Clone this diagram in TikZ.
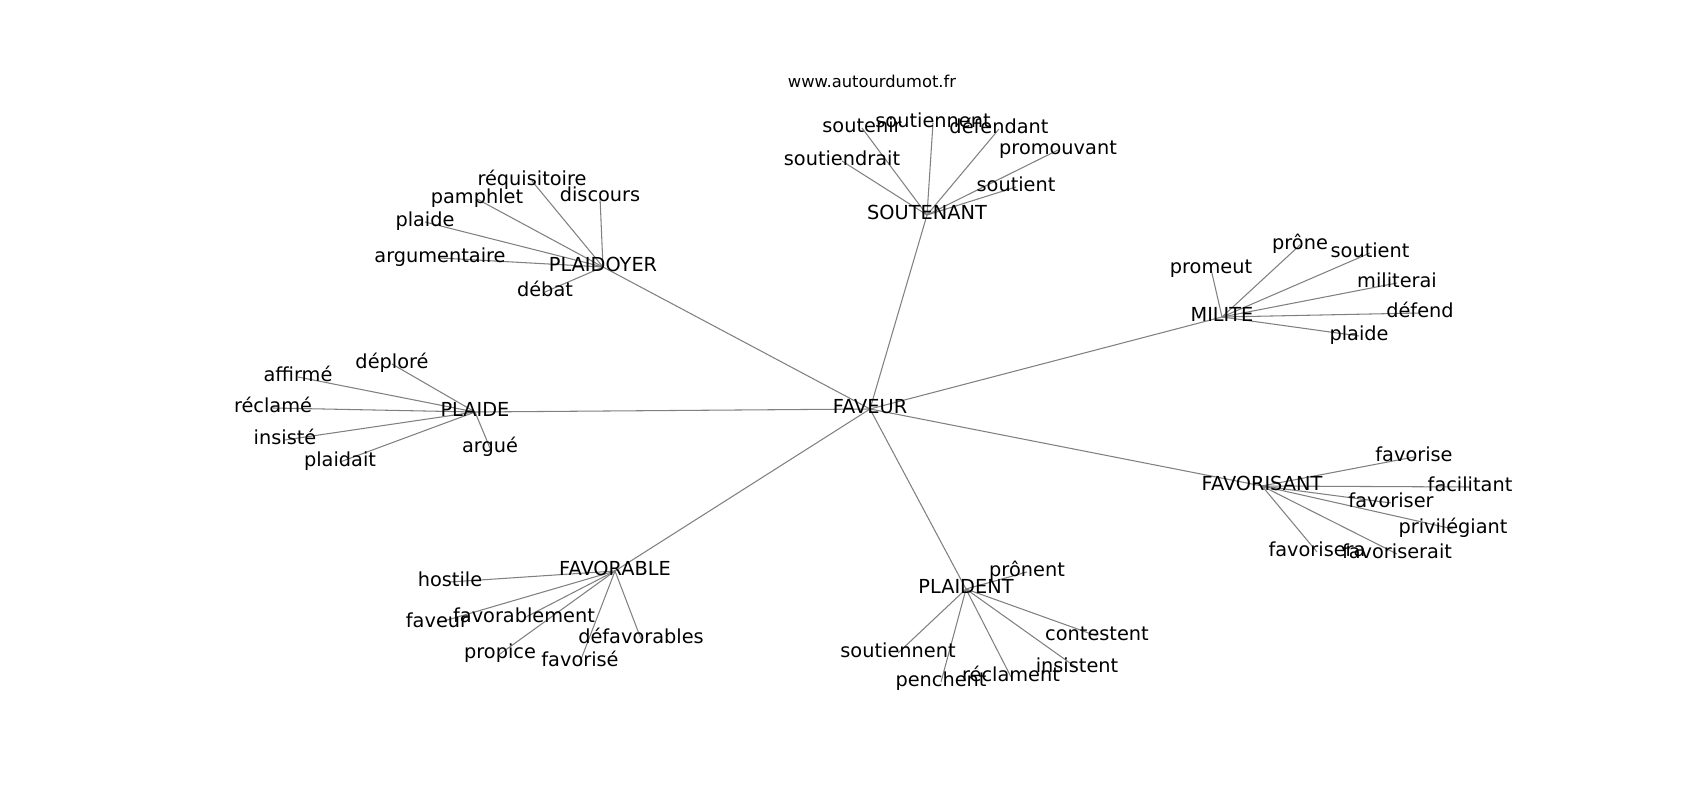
\documentclass[tikz,border=0pt]{standalone}
\usepackage{fontspec}
\setmainfont{DejaVu Sans}
\usetikzlibrary{backgrounds}

\begin{document}
\begin{tikzpicture}[
  x=0.02cm, y=-0.02cm,
  every node/.style={font=\fontsize{11}{13}\selectfont, inner sep=0pt, text height=0.73em, text depth=0.2em},
  site/.style={font=\fontsize{9.3}{11}\selectfont},
  link/.style={draw=gray, line width=0.6pt}
]
\useasboundingbox (0,0) rectangle (1700,800);

% Title
\node[site] (SITE) at (872,83) {www.autourdumot.fr};

% Centre word
\node (FAV) at (870,409) {FAVEUR};

% Groups round the centre
\node (SOUT) at (927,215) {SOUTENANT};
\node (PDOY) at (603,267) {PLAIDOYER};
\node (PLAI) at (475,412) {PLAIDE};
\node (MILI) at (1222,317) {MILITE};
\node (FSANT) at (1262,486) {FAVORISANT};
\node (FABLE) at (615,571) {FAVORABLE};
\node (PDENT) at (966,589) {PLAIDENT};

% SOUTENANT
\node (s1) at (862,128) {soutenir};
\node (s2) at (933,123) {soutiennent};
\node (s3) at (999,129) {défendant};
\node (s4) at (1058,150) {promouvant};
\node (s5) at (842,161) {soutiendrait};
\node (s6) at (1016,187) {soutient};

% PLAIDOYER
\node (y1) at (532,181) {réquisitoire};
\node (y2) at (600,197) {discours};
\node (y3) at (477,199) {pamphlet};
\node (y4) at (425,222) {plaide};
\node (y5) at (440,258) {argumentaire};
\node (y6) at (545,292) {débat};

% PLAIDE
\node (p1) at (392,364) {déploré};
\node (p2) at (298,377) {affirmé};
\node (p3) at (273,408) {réclamé};
\node (p4) at (285,440) {insisté};
\node (p5) at (340,462) {plaidait};
\node (p6) at (490,448) {argué};

% MILITE
\node (m1) at (1211,269) {promeut};
\node (m2) at (1300,245) {prône};
\node (m3) at (1370,253) {soutient};
\node (m4) at (1397,283) {militerai};
\node (m5) at (1420,313) {défend};
\node (m6) at (1359,336) {plaide};

% FAVORISANT
\node (f1) at (1414,457) {favorise};
\node (f2) at (1470,487) {facilitant};
\node (f3) at (1391,503) {favoriser};
\node (f4) at (1453,529) {privilégiant};
\node (f5) at (1397,554) {favoriserait};
\node (f6) at (1317,552) {favorisera};

% FAVORABLE
\node (b1) at (450,582) {hostile};
\node (b2) at (437,623) {faveur};
\node (b3) at (524,618) {favorablement};
\node (b4) at (500,654) {propice};
\node (b5) at (580,662) {favorisé};
\node (b6) at (641,639) {défavorables};

% PLAIDENT
\node (d1) at (1027,572) {prônent};
\node (d2) at (1097,636) {contestent};
\node (d3) at (1077,668) {insistent};
\node (d4) at (1011,677) {réclament};
\node (d5) at (941,682) {penchent};
\node (d6) at (898,653) {soutiennent};

% Edges under the words
\begin{scope}[on background layer]
\foreach \X in {SOUT,PDOY,PLAI,MILI,FSANT,FABLE,PDENT}
  \draw[link] (FAV.center) -- (\X.center);
\foreach \H/\L in {SOUT/s, PDOY/y, PLAI/p, MILI/m, FSANT/f, FABLE/b, PDENT/d}
  \foreach \i in {1,...,6}
    \draw[link] (\H.center) -- (\L\i.center);
\end{scope}

\end{tikzpicture}
\end{document}
